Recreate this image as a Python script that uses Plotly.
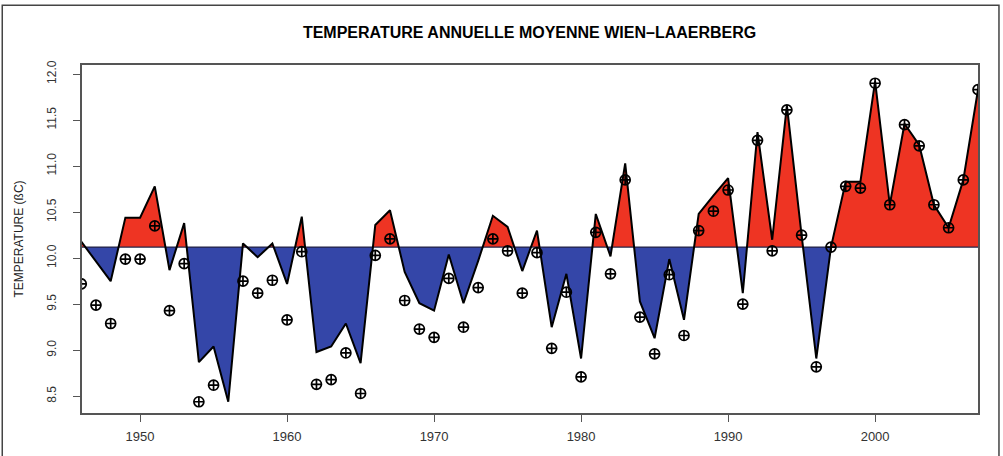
import plotly.graph_objects as go

# ---- data ----
years = list(range(1946, 2008))
line_values = [
    10.18, 9.97, 9.75, 10.44, 10.44, 10.78, 9.87, 10.38, 8.87, 9.04,   # 1946-1955
    8.44, 10.16, 10.01, 10.16, 9.72, 10.45, 8.98, 9.04, 9.29, 8.86,    # 1956-1965
    10.36, 10.52, 9.85, 9.51, 9.43, 10.04, 9.51, 9.97, 10.46, 10.34,   # 1966-1975
    9.86, 10.30, 9.25, 9.83, 8.91, 10.48, 10.02, 11.03, 9.53, 9.13,    # 1976-1985
    9.99, 9.33, 10.48, 10.68, 10.87, 9.62, 11.37, 10.20, 11.66, 10.25, # 1986-1995
    8.91, 10.12, 10.83, 10.83, 11.92, 10.58, 11.46, 11.23, 10.58, 10.33, # 1996-2005
    10.85, 11.83,                                                       # 2006-2007
]
point_values = [
    9.72, 9.49, 9.29, 9.99, 9.99, 10.35, 9.43, 9.94, 8.44, 8.62,       # 1946-1955
    None, 9.75, 9.62, 9.76, 9.33, 10.07, 8.63, 8.68, 8.97, 8.53,       # 1956-1965
    10.03, 10.21, 9.54, 9.23, 9.14, 9.78, 9.25, 9.68, 10.21, 10.08,    # 1966-1975
    9.62, 10.06, 9.02, 9.63, 8.71, 10.28, 9.83, 10.85, 9.36, 8.96,     # 1976-1985
    9.82, 9.16, 10.30, 10.51, 10.74, 9.50, 11.28, 10.08, 11.61, 10.25, # 1986-1995
    8.82, 10.12, 10.78, 10.76, 11.90, 10.58, 11.45, 11.22, 10.58, 10.33, # 1996-2005
    10.85, 11.83,                                                       # 2006-2007
]
baseline = 10.12
title_text = "TEMPERATURE ANNUELLE MOYENNE WIEN\u2013LAAERBERG"
y_title = "TEMPERATURE (\u00dfC)"
x_ticks = [1950, 1960, 1970, 1980, 1990, 2000]
y_ticks = [8.5, 9.0, 9.5, 10.0, 10.5, 11.0, 11.5, 12.0]

# ---- insert baseline crossings so the fills split cleanly ----
xs, ys = [], []
for i in range(len(years)):
    x0, y0 = years[i], line_values[i]
    xs.append(x0); ys.append(y0)
    if i + 1 < len(years):
        x1, y1 = years[i + 1], line_values[i + 1]
        if (y0 - baseline) * (y1 - baseline) < 0:
            xc = x0 + (baseline - y0) / (y1 - y0) * (x1 - x0)
            xs.append(xc); ys.append(baseline)
upper = [max(v, baseline) for v in ys]
lower = [min(v, baseline) for v in ys]
base = [baseline] * len(xs)

RED = "#EE3423"
BLUE = "#3446A8"

fig = go.Figure()
fig.add_trace(go.Scatter(x=xs, y=base, mode="lines", line=dict(width=0), hoverinfo="skip", showlegend=False))
fig.add_trace(go.Scatter(x=xs, y=upper, mode="lines", line=dict(width=0), fill="tonexty",
                         fillcolor=RED, hoverinfo="skip", showlegend=False))
fig.add_trace(go.Scatter(x=xs, y=base, mode="lines", line=dict(width=0), hoverinfo="skip", showlegend=False))
fig.add_trace(go.Scatter(x=xs, y=lower, mode="lines", line=dict(width=0), fill="tonexty",
                         fillcolor=BLUE, hoverinfo="skip", showlegend=False))
# baseline
fig.add_trace(go.Scatter(x=[1946, 2008], y=[baseline, baseline], mode="lines",
                         line=dict(color="#222244", width=1.2), showlegend=False))
# outline
fig.add_trace(go.Scatter(x=years, y=line_values, mode="lines",
                         line=dict(color="black", width=2), showlegend=False))
# points
fig.add_trace(go.Scatter(x=years, y=point_values, mode="markers",
                         marker=dict(symbol="circle-cross-open", size=10, color="black",
                                     line=dict(width=1.7, color="black")),
                         showlegend=False))

axis_common = dict(showgrid=False, zeroline=False, showline=True, linecolor="#555555",
                   linewidth=1.5, mirror=True, ticks="outside", ticklen=7, tickcolor="#555555",
                   automargin=False)

fig.update_layout(
    width=1003, height=456,
    paper_bgcolor="white", plot_bgcolor="white",
    margin=dict(l=82, r=25, t=65, b=43),
    title=dict(text="<b>" + title_text + "</b>", x=0.528, xanchor="center", y=0.93, yanchor="middle",
               font=dict(family="Liberation Sans Narrow, Arial Narrow, Liberation Sans, sans-serif",
                         size=16, color="black")),
    xaxis=dict(range=[1946.05, 2007.0], tickvals=x_ticks, ticktext=[str(t) for t in x_ticks],
               ticklabelstandoff=4,
               tickfont=dict(family="Liberation Sans, Arial, sans-serif", size=13, color="#333333"),
               **axis_common),
    yaxis=dict(range=[8.318, 12.098], tickvals=y_ticks, ticktext=["%.1f" % t for t in y_ticks],
               tickangle=-90, ticklabelstandoff=12,
               tickfont=dict(family="Liberation Sans, Arial, sans-serif", size=12, color="#333333"),
               title=dict(text=y_title, standoff=19,
                          font=dict(family="Liberation Sans, Arial, sans-serif", size=12, color="#222222")),
               **axis_common),
    shapes=[dict(type="rect", xref="paper", yref="paper",
                 x0=-0.089, x1=1.0234, y0=-0.2, y1=1.172,
                 line=dict(color="#444444", width=1.5), fillcolor="rgba(0,0,0,0)", layer="below")],
)

fig.write_html("out.html", config={"displayModeBar": False},
               post_script="document.body.style.margin='0';")
